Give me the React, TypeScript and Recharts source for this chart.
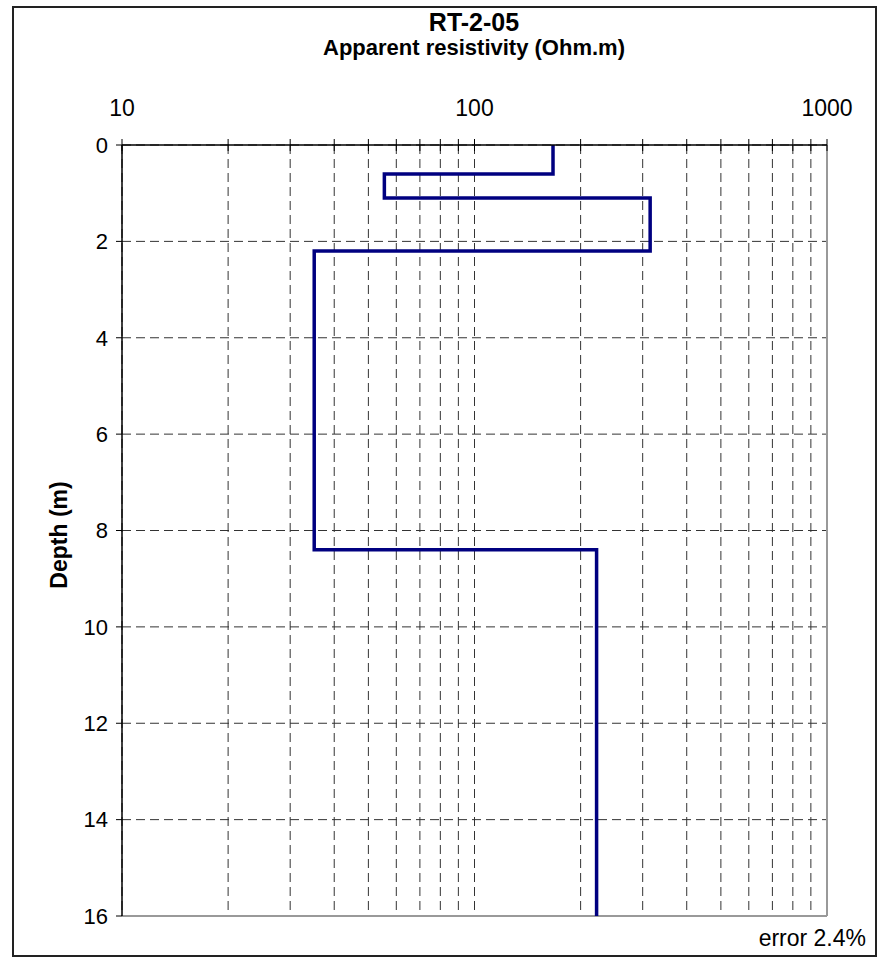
import React from 'react';
import { LineChart, Line, XAxis, YAxis, CartesianGrid, ReferenceLine } from 'recharts';

const layerTops = [0, 0.6, 1.1, 2.2, 8.4];
const layerResistivity = [167, 55.5, 315, 35.1, 222];
const maxDepth = 16;
const xTicks = [10, 20, 30, 40, 50, 60, 70, 80, 90, 100, 200, 300, 400, 500, 600, 700, 800, 900, 1000];
const xLabels = [10, 100, 1000];
const yTicks = [0, 2, 4, 6, 8, 10, 12, 14, 16];
const chartTitle = 'RT-2-05';
const xTitle = 'Apparent resistivity (Ohm.m)';
const yTitle = 'Depth (m)';
const errorNote = 'error 2.4%';

const stepData = layerResistivity.flatMap((r, i) => [
  { res: r, depth: layerTops[i] },
  { res: r, depth: i + 1 < layerTops.length ? layerTops[i + 1] : maxDepth },
]);

const FONT = '"Liberation Sans", Arial, sans-serif';

const TopTick = (props: any) => {
  const { x, y, payload } = props;
  const v = payload.value;
  return (
    <g>
      <line x1={x} x2={x} y1={y - 6} y2={y + 6} stroke="#000" strokeWidth={1} />
      {xLabels.includes(v) && (
        <text x={x} y={y - 29} textAnchor="middle" fontSize={23} fontFamily={FONT} fill="#000">
          {v}
        </text>
      )}
    </g>
  );
};

export default function App() {
  return (
    <div style={{ position: 'absolute', left: 0, top: 0, width: 881, height: 960, background: '#fff', fontFamily: FONT }}>
      <div
        style={{
          position: 'absolute',
          left: 12,
          top: 6,
          width: 865,
          height: 951,
          boxSizing: 'border-box',
          border: '2px solid #222',
        }}
      />
      <div style={{ position: 'absolute', left: 274, width: 400, top: 7, lineHeight: '30px', textAlign: 'center', fontSize: 25, fontWeight: 'bold' }}>
        {chartTitle}
      </div>
      <div style={{ position: 'absolute', left: 174, width: 600, top: 36, lineHeight: '24px', textAlign: 'center', fontSize: 22, fontWeight: 'bold' }}>
        {xTitle}
      </div>
      <div
        style={{
          position: 'absolute',
          left: 59 - 100,
          top: 535 - 12,
          width: 200,
          lineHeight: '24px',
          textAlign: 'center',
          fontSize: 23,
          fontWeight: 'bold',
          transform: 'rotate(-90deg)',
        }}
      >
        {yTitle}
      </div>
      <div style={{ position: 'absolute', right: 15, top: 926, lineHeight: '24px', fontSize: 23 }}>{errorNote}</div>
      <div style={{ position: 'absolute', left: 0, top: 0 }}>
        <LineChart width={881} height={960} data={stepData} margin={{ top: 105, left: 62, right: 54, bottom: 44 }}>
          <CartesianGrid stroke="#333" strokeDasharray="9 5" strokeWidth={1} />
          <XAxis
            type="number"
            dataKey="res"
            scale="log"
            domain={[10, 1000]}
            ticks={xTicks}
            interval={0}
            orientation="top"
            height={40}
            allowDataOverflow
            axisLine={{ stroke: '#000', strokeWidth: 1.5 }}
            tickLine={false}
            tickSize={0}
            tickMargin={0}
            tick={<TopTick />}
          />
          <YAxis
            type="number"
            dataKey="depth"
            domain={[0, 16]}
            reversed
            ticks={yTicks}
            interval={0}
            width={60}
            axisLine={{ stroke: '#000', strokeWidth: 1.5 }}
            tickLine={{ stroke: '#000' }}
            tickSize={6}
            tickMargin={8}
            tick={{ fontSize: 22, fill: '#000', fontFamily: FONT }}
          />
          <ReferenceLine x={1000} stroke="#999" strokeWidth={2} />
          <ReferenceLine y={16} stroke="#999" strokeWidth={2} />
          <Line
            type="linear"
            dataKey="depth"
            stroke="#000080"
            strokeWidth={3.5}
            strokeLinejoin="miter"
            dot={false}
            activeDot={false}
            isAnimationActive={false}
          />
        </LineChart>
      </div>
    </div>
  );
}
